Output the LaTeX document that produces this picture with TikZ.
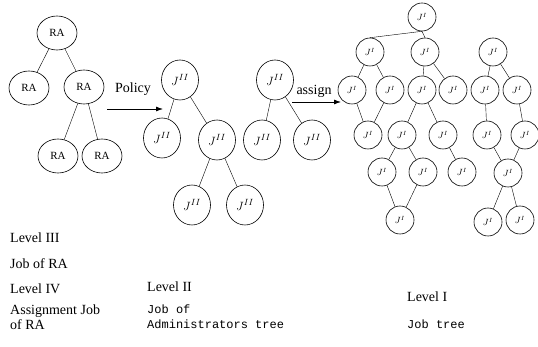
\documentclass[tikz,border=0pt]{standalone}
\usepackage{fontspec}
\setmainfont{Liberation Serif}
\setmonofont{Liberation Mono}
\usetikzlibrary{arrows.meta,shapes.geometric}

\begin{document}
\begin{tikzpicture}[
		x=1pt, y=-1pt,
		ranode/.style={draw, semithick, ellipse, minimum width=40pt, minimum height=34pt, inner sep=0pt, font=\fontsize{11}{12}\selectfont},
		admnode/.style={draw, semithick, ellipse, minimum width=37pt, minimum height=40pt, inner sep=0pt, font=\fontsize{13}{14}\selectfont},
		jobnode/.style={draw, semithick, circle, minimum size=28pt, inner sep=0pt, font=\fontsize{9}{10}\selectfont},
		lbl/.style={anchor=west, inner sep=0pt, align=left, font=\fontsize{14}{15}\selectfont},
		mono/.style={anchor=west, inner sep=0pt, align=left, font=\ttfamily\fontsize{12}{15}\selectfont},
		edge/.style={thin},
		flow/.style={thick, -{Latex[length=7pt, width=5pt]}}
	]
	\useasboundingbox (0,0) rectangle (538,347);

	% RA tree
	\node[ranode] (ra) at (57,33) {RA};
	\node[ranode] (raL) at (29,88) {RA};
	\node[ranode] (raR) at (84,87) {RA};
	\node[ranode] (raRL) at (58,156) {RA};
	\node[ranode] (raRR) at (102,156) {RA};

	% Administrators trees
	\node[admnode] (ja) at (180,80) {$J^{II}$};
	\node[admnode] (jaL) at (162,138) {$J^{II}$};
	\node[admnode] (jaR) at (217,140) {$J^{II}$};
	\node[admnode] (jaRL) at (192,205) {$J^{II}$};
	\node[admnode] (jaRR) at (245,205) {$J^{II}$};

	\node[admnode] (jb) at (275,80) {$J^{II}$};
	\node[admnode] (jbL) at (262,140) {$J^{II}$};
	\node[admnode] (jbR) at (312,140) {$J^{II}$};

	% Job tree
	\node[jobnode] (jr) at (422,17) {$J^{I}$};
	\node[jobnode] (j1) at (370,52) {$J^{I}$};
	\node[jobnode] (j2) at (425,52) {$J^{I}$};
	\node[jobnode] (j3) at (493,52) {$J^{I}$};
	\node[jobnode] (j11) at (352,90) {$J^{I}$};
	\node[jobnode] (j12) at (390,90) {$J^{I}$};
	\node[jobnode] (j21) at (422,90) {$J^{I}$};
	\node[jobnode] (j22) at (453,90) {$J^{I}$};
	\node[jobnode] (j31) at (485,90) {$J^{I}$};
	\node[jobnode] (j32) at (517,90) {$J^{I}$};
	\node[jobnode] (jd) at (368,135) {$J^{I}$};
	\node[jobnode] (je) at (402,135) {$J^{I}$};
	\node[jobnode] (jf) at (443,135) {$J^{I}$};
	\node[jobnode] (jg) at (487,135) {$J^{I}$};
	\node[jobnode] (jh) at (525,135) {$J^{I}$};
	\node[jobnode] (je1) at (382,172) {$J^{I}$};
	\node[jobnode] (je2) at (423,172) {$J^{I}$};
	\node[jobnode] (jf1) at (462,172) {$J^{I}$};
	\node[jobnode] (ji) at (508,173) {$J^{I}$};
	\node[jobnode] (jk) at (400,220) {$J^{I}$};
	\node[jobnode] (ji1) at (488,222) {$J^{I}$};
	\node[jobnode] (ji2) at (520,220) {$J^{I}$};

	% Connections
	\draw[edge] (ra) -- (raL);
	\draw[edge] (ra) -- (raR);
	\draw[edge] (raR) -- (raRL);
	\draw[edge] (raR) -- (raRR);

	\draw[edge] (ja) -- (jaL);
	\draw[edge] (ja) -- (jaR);
	\draw[edge] (jaR) -- (jaRL);
	\draw[edge] (jaR) -- (jaRR);
	\draw[edge] (jb) -- (jbL);
	\draw[edge] (jb) -- (jbR);

	\draw[edge] (j1.north) -- (jr.south) -- (j2.north);
	\draw[edge] (j1) -- (j11);
	\draw[edge] (j1) -- (j12);
	\draw[edge] (j2) -- (j21);
	\draw[edge] (j2) -- (j22);
	\draw[edge] (j3) -- (j31);
	\draw[edge] (j3) -- (j32);
	\draw[edge] (j11) -- (jd);
	\draw[edge] (j12) -- (jd);
	\draw[edge] (j21) -- (je);
	\draw[edge] (j21) -- (jf);
	\draw[edge] (j31) -- (jg);
	\draw[edge] (j32) -- (jh);
	\draw[edge] (je) -- (je1);
	\draw[edge] (je) -- (je2);
	\draw[edge] (jf) -- (jf1);
	\draw[edge] (jg) -- (ji);
	\draw[edge] (jh) -- (ji);
	\draw[edge] (je1) -- (jk);
	\draw[edge] (je2) -- (jk);
	\draw[edge] (ji) -- (ji1);
	\draw[edge] (ji) -- (ji2);

	% Arrows
	\coordinate (policyA) at (107,109);
	\coordinate (policyB) at (163,109);
	\draw[flow] (policyA) -- (policyB);
	\node[lbl, anchor=center] (policy) at (133,89) {Policy};

	\coordinate (assignA) at (292,102);
	\coordinate (assignB) at (341,102);
	\draw[flow] (assignA) -- (assignB);
	\node[lbl, anchor=center] (assign) at (314,91) {assign};

	% Level labels
	\node[lbl] (lvl3) at (10,238) {Level III};
	\node[lbl] (job3) at (10,264) {Job of RA};
	\node[lbl] (lvl4) at (10,289) {Level IV};
	\node[lbl] (job4) at (10,317) {Assignment Job\\of RA};

	\node[lbl] (lvl2) at (147,287) {Level II};
	\node[mono] (job2) at (147,317) {Job of\\Administrators tree};

	\node[lbl] (lvl1) at (407,297) {Level I};
	\node[mono] (job1) at (407,324) {Job tree};
\end{tikzpicture}
\end{document}
